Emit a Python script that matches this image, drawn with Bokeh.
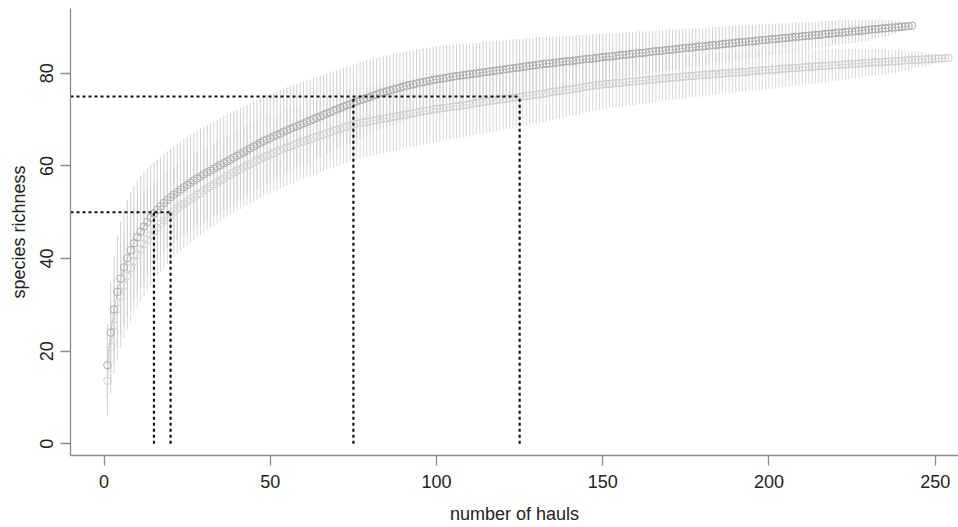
from bokeh.plotting import figure
from bokeh.models import ColumnDataSource, Range1d, FixedTicker
from bokeh.embed import file_html
from bokeh.resources import INLINE

# ---------------- data ----------------
# Series A (upper, darker): mean species richness per number of hauls, x = 1..N
rich_a = [
    17.0, 24.0, 29.0, 32.8, 35.7, 38.1, 40.1, 41.8, 43.3, 44.6,
    45.8, 46.9, 47.9, 48.85, 49.75, 50.55, 51.3, 52.0, 52.65, 53.25,
    53.8, 54.35, 54.9, 55.4, 55.9, 56.4, 56.85, 57.3, 57.75,
    58.2, 58.6, 59.0, 59.4, 59.8, 60.2, 60.6, 61.0, 61.4, 61.8,
    62.2, 62.6, 63.0, 63.4, 63.8, 64.2, 64.6, 65.0, 65.4, 65.7,
    66.0, 66.4, 66.7, 67.0, 67.4, 67.7, 68.0, 68.3, 68.6, 68.9,
    69.2, 69.5, 69.8, 70.1, 70.4, 70.7, 71.0, 71.3, 71.6, 71.9, 72.2, 72.5, 72.8, 73.1, 73.3, 73.6,
    73.9, 74.2, 74.4, 74.7, 74.9, 75.2, 75.4, 75.7, 75.9, 76.1, 76.3, 76.5, 76.7, 76.9, 77.1,
    77.3, 77.5, 77.6, 77.8, 78.0, 78.1, 78.3, 78.4, 78.6, 78.7,
    78.8, 78.9, 79.0, 79.2, 79.3, 79.4, 79.5, 79.6, 79.7, 79.8, 79.9, 80.0, 80.1, 80.2, 80.3,
    80.4, 80.5, 80.6, 80.7, 80.8, 80.9, 81.0, 81.1, 81.2, 81.3,
    81.4, 81.5, 81.6, 81.7, 81.8, 81.9, 82.0, 82.1, 82.1, 82.2, 82.3, 82.4, 82.5, 82.6, 82.6,
    82.7, 82.8, 82.9, 83.0, 83.1, 83.1, 83.2, 83.3, 83.4, 83.5,
    83.6, 83.6, 83.7, 83.8, 83.9, 84.0, 84.0, 84.1, 84.2, 84.3, 84.4, 84.4, 84.5, 84.6, 84.7,
    84.8, 84.8, 84.9, 85.0, 85.1, 85.1, 85.2, 85.3, 85.4, 85.5,
    85.5, 85.6, 85.7, 85.8, 85.8, 85.9, 86.0, 86.1, 86.1, 86.2, 86.3, 86.4, 86.4, 86.5, 86.6,
    86.7, 86.7, 86.8, 86.9, 86.9, 87.0, 87.1, 87.2, 87.2, 87.3,
    87.4, 87.4, 87.5, 87.6, 87.6, 87.7, 87.8, 87.9, 87.9, 88.0, 88.1, 88.1, 88.2, 88.3, 88.3,
    88.4, 88.5, 88.6, 88.6, 88.7, 88.8, 88.8, 88.9, 89.0, 89.0,
    89.1, 89.2, 89.2, 89.3, 89.4, 89.5, 89.5, 89.6, 89.7, 89.7, 89.8, 89.9, 89.9, 90.0, 90.1,
    90.1, 90.2, 90.3,
]
# Series A: half-length of the error bars
ci_a = [
    9.0, 11.0, 11.5, 12.0, 12.3, 12.5, 12.5, 12.5, 12.4, 12.3,
    12.1, 11.9, 11.6, 11.3, 11.0, 10.8, 10.7, 10.6, 10.5, 10.5,
    10.5, 10.5, 10.4, 10.4, 10.4, 10.4, 10.3, 10.3, 10.3, 10.3,
    10.2, 10.2, 10.2, 10.1, 10.1, 10.1, 10.0, 10.0, 10.0, 9.9,
    9.9, 9.9, 9.8, 9.8, 9.8, 9.7, 9.7, 9.6, 9.6, 9.5,
    9.5, 9.4, 9.4, 9.3, 9.3, 9.2, 9.2, 9.1, 9.1, 9.0,
    9.0, 8.9, 8.9, 8.8, 8.8, 8.7, 8.7, 8.6, 8.6, 8.5,
    8.5, 8.4, 8.4, 8.3, 8.3, 8.2, 8.2, 8.1, 8.1, 8.0,
    8.0, 7.9, 7.9, 7.8, 7.8, 7.7, 7.7, 7.6, 7.6, 7.5,
    7.5, 7.5, 7.4, 7.4, 7.3, 7.3, 7.2, 7.2, 7.1, 7.1,
    7.0, 7.0, 7.0, 6.9, 6.9, 6.9, 6.8, 6.8, 6.8, 6.7,
    6.7, 6.6, 6.6, 6.6, 6.5, 6.5, 6.5, 6.4, 6.4, 6.3,
    6.3, 6.3, 6.2, 6.2, 6.1, 6.1, 6.1, 6.0, 6.0, 5.9,
    5.9, 5.8, 5.8, 5.8, 5.7, 5.7, 5.6, 5.6, 5.5, 5.5,
    5.5, 5.4, 5.4, 5.3, 5.3, 5.2, 5.2, 5.1, 5.1, 5.0,
    5.0, 5.0, 4.9, 4.9, 4.9, 4.8, 4.8, 4.8, 4.7, 4.7,
    4.7, 4.6, 4.6, 4.6, 4.5, 4.5, 4.5, 4.4, 4.4, 4.4,
    4.3, 4.3, 4.3, 4.2, 4.2, 4.2, 4.1, 4.1, 4.1, 4.0,
    4.0, 4.0, 3.9, 3.9, 3.9, 3.8, 3.8, 3.8, 3.7, 3.7,
    3.7, 3.6, 3.6, 3.6, 3.5, 3.5, 3.5, 3.4, 3.4, 3.4,
    3.3, 3.3, 3.3, 3.2, 3.2, 3.2, 3.1, 3.1, 3.1, 3.0,
    3.0, 3.0, 2.9, 2.9, 2.9, 2.8, 2.8, 2.8, 2.7, 2.7,
    2.7, 2.6, 2.6, 2.6, 2.5, 2.5, 2.4, 2.4, 2.3, 2.3,
    2.2, 2.1, 2.0, 1.9, 1.8, 1.7, 1.5, 1.4, 1.2, 1.0,
    0.7, 0.4, 0.0,
]

# Series B (lower, lighter)
rich_b = [
    13.6, 20.9, 25.6, 29.1, 31.9, 34.2, 36.2, 37.9, 39.4, 40.8,
    42.0, 43.1, 44.1, 45.0, 45.9, 46.7, 47.5, 48.2, 48.9, 49.6,
    50.2, 50.8, 51.3, 51.8, 52.3, 52.8, 53.3, 53.8, 54.2, 54.7,
    55.1, 55.6, 56.0, 56.5, 56.9, 57.3, 57.8, 58.2, 58.6,
    59.0, 59.3, 59.7, 60.1, 60.4, 60.8, 61.2, 61.5, 61.9, 62.2,
    62.5, 62.8, 63.1, 63.4, 63.7, 64.0, 64.2, 64.5, 64.8, 65.1,
    65.3, 65.6, 65.8, 66.1, 66.3, 66.6, 66.8, 67.1, 67.3, 67.6, 67.8, 68.0, 68.3, 68.5, 68.7, 69.0,
    69.1, 69.3, 69.4, 69.5, 69.7, 69.8, 69.9, 70.1, 70.2, 70.3, 70.5, 70.6, 70.7, 70.9, 71.0,
    71.1, 71.3, 71.4, 71.5, 71.7, 71.8, 71.9, 72.0, 72.2, 72.3,
    72.4, 72.5, 72.6, 72.7, 72.8, 72.9, 73.0, 73.1, 73.2, 73.3, 73.5, 73.6, 73.7, 73.8, 73.9,
    74.0, 74.1, 74.2, 74.3, 74.4, 74.5, 74.6, 74.7, 74.8, 74.9,
    75.0, 75.1, 75.2, 75.3, 75.4, 75.5, 75.6, 75.7, 75.9, 76.0, 76.1, 76.2, 76.3, 76.4, 76.5,
    76.6, 76.7, 76.8, 77.0, 77.1, 77.2, 77.3, 77.4, 77.5, 77.6,
    77.7, 77.7, 77.8, 77.9, 77.9, 78.0, 78.1, 78.2, 78.2, 78.3, 78.4, 78.4, 78.5, 78.6, 78.6,
    78.7, 78.8, 78.9, 78.9, 79.0, 79.1, 79.1, 79.2, 79.3, 79.3,
    79.4, 79.4, 79.5, 79.6, 79.6, 79.7, 79.7, 79.8, 79.8, 79.9, 80.0, 80.0, 80.1, 80.1, 80.2,
    80.2, 80.3, 80.3, 80.4, 80.5, 80.5, 80.6, 80.6, 80.7, 80.7,
    80.8, 80.8, 80.9, 81.0, 81.0, 81.1, 81.1, 81.2, 81.2, 81.3, 81.3, 81.4, 81.4, 81.5, 81.5,
    81.6, 81.6, 81.7, 81.7, 81.8, 81.8, 81.9, 81.9, 82.0, 82.0,
    82.1, 82.1, 82.2, 82.2, 82.3, 82.3, 82.4, 82.4, 82.4, 82.5, 82.5, 82.6, 82.6, 82.7, 82.7,
    82.8, 82.8, 82.9, 82.9, 82.9, 83.0, 83.0, 83.1, 83.1, 83.2, 83.2, 83.2, 83.3, 83.3,
]
ci_b = [
    7.5, 10.0, 10.5, 11.0, 11.2, 11.4, 11.5, 11.5, 11.5, 11.4,
    11.3, 11.2, 11.0, 10.9, 10.7, 10.6, 10.4, 10.3, 10.1, 10.0,
    9.9, 9.8, 9.7, 9.6, 9.5, 9.4, 9.3, 9.2, 9.1, 9.0,
    9.0, 8.9, 8.9, 8.9, 8.8, 8.8, 8.8, 8.7, 8.7, 8.7,
    8.6, 8.6, 8.6, 8.5, 8.5, 8.5, 8.4, 8.4, 8.4, 8.3,
    8.3, 8.3, 8.3, 8.2, 8.2, 8.2, 8.2, 8.1, 8.1, 8.1,
    8.1, 8.0, 8.0, 8.0, 8.0, 7.9, 7.9, 7.9, 7.9, 7.8,
    7.8, 7.8, 7.8, 7.7, 7.7, 7.7, 7.7, 7.6, 7.6, 7.6,
    7.6, 7.5, 7.5, 7.5, 7.5, 7.4, 7.4, 7.4, 7.4, 7.3,
    7.3, 7.3, 7.3, 7.3, 7.2, 7.2, 7.2, 7.2, 7.2, 7.2,
    7.1, 7.1, 7.1, 7.0, 7.0, 7.0, 7.0, 6.9, 6.9, 6.9,
    6.9, 6.8, 6.8, 6.8, 6.8, 6.7, 6.7, 6.7, 6.6, 6.6,
    6.6, 6.6, 6.5, 6.5, 6.5, 6.4, 6.4, 6.4, 6.3, 6.3,
    6.2, 6.2, 6.2, 6.1, 6.1, 6.0, 6.0, 5.9, 5.9, 5.8,
    5.8, 5.8, 5.7, 5.7, 5.6, 5.6, 5.5, 5.5, 5.4, 5.4,
    5.4, 5.3, 5.3, 5.3, 5.2, 5.2, 5.2, 5.1, 5.1, 5.1,
    5.0, 5.0, 5.0, 5.0, 4.9, 4.9, 4.9, 4.9, 4.8, 4.8,
    4.8, 4.8, 4.7, 4.7, 4.7, 4.7, 4.6, 4.6, 4.6, 4.6,
    4.5, 4.5, 4.5, 4.5, 4.4, 4.4, 4.4, 4.4, 4.3, 4.3,
    4.3, 4.3, 4.3, 4.2, 4.2, 4.2, 4.2, 4.2, 4.2, 4.1,
    4.1, 4.1, 4.0, 4.0, 4.0, 3.9, 3.9, 3.9, 3.8, 3.8,
    3.8, 3.7, 3.7, 3.7, 3.6, 3.6, 3.6, 3.5, 3.5, 3.5,
    3.4, 3.4, 3.3, 3.3, 3.2, 3.2, 3.1, 3.1, 3.0, 3.0,
    2.9, 2.9, 2.8, 2.8, 2.7, 2.6, 2.6, 2.5, 2.4, 2.3,
    2.2, 2.1, 2.0, 1.9, 1.8, 1.6, 1.5, 1.3, 1.1, 0.9,
    0.7, 0.5, 0.2, 0.0,
]

# Reference thresholds (dotted lines)
richness_targets = [50, 75]
hauls_needed_a = [15, 75]
hauls_needed_b = [20, 125]

x_ticks = [0, 50, 100, 150, 200, 250]
y_ticks = [0, 20, 40, 60, 80]
x_label = "number of hauls"
y_label = "species richness"

# ---------------- figure ----------------
FONT = "Liberation Sans"
X_START, X_END = -10.1, 257
p = figure(width=958, height=527,
           x_range=Range1d(X_START, X_END), y_range=Range1d(-2.53, 94.0),
           output_backend="svg", toolbar_location=None,
           min_border_left=70, min_border_right=0, min_border_top=8,
           min_border_bottom=72)
p.outline_line_color = None
p.xgrid.visible = False
p.ygrid.visible = False
p.background_fill_color = "white"
p.border_fill_color = "white"


def series_source(rich, ci):
    xs = list(range(1, len(rich) + 1))
    lo = [r - c for r, c in zip(rich, ci)]
    hi = [r + c for r, c in zip(rich, ci)]
    return ColumnDataSource(dict(x=xs, y=rich, lo=lo, hi=hi))


src_a = series_source(rich_a, ci_a)
src_b = series_source(rich_b, ci_b)

# series B (lighter) first
p.segment(x0="x", y0="lo", x1="x", y1="hi", source=src_b,
          line_color="#d8d8d8", line_width=1)
p.line("x", "y", source=src_b, line_color="#d6d6d6", line_width=0.8)
p.scatter("x", "y", source=src_b, marker="circle", size=7.5,
          fill_color=None, line_color="#d0d0d0", line_width=1)

# series A (darker)
p.segment(x0="x", y0="lo", x1="x", y1="hi", source=src_a,
          line_color="#d0d0d0", line_width=1)
p.line("x", "y", source=src_a, line_color="#b8b8b8", line_width=0.8)
p.scatter("x", "y", source=src_a, marker="circle", size=7.5,
          fill_color=None, line_color="#ababab", line_width=1)

# dotted reference lines
h_src = ColumnDataSource(dict(
    x0=[X_START] * len(richness_targets),
    x1=[max(a, b) for a, b in zip(hauls_needed_a, hauls_needed_b)],
    y=richness_targets))
p.segment(x0="x0", y0="y", x1="x1", y1="y", source=h_src,
          line_color="#111111", line_width=2.2, line_dash="3 3")

v_x = hauls_needed_a + hauls_needed_b
v_top = richness_targets + richness_targets
v_src = ColumnDataSource(dict(x=v_x, y0=[0] * len(v_x), y1=v_top))
p.segment(x0="x", y0="y0", x1="x", y1="y1", source=v_src,
          line_color="#111111", line_width=2.2, line_dash="3 3")

# ---------------- axes ----------------
for ax in (p.xaxis[0], p.yaxis[0]):
    ax.axis_line_color = "#8c8c8c"
    ax.axis_line_width = 1.3
    ax.major_tick_line_color = "#8c8c8c"
    ax.major_tick_line_width = 1.3
    ax.major_tick_out = 10
    ax.major_tick_in = 0
    ax.minor_tick_line_color = None
    ax.major_label_text_font = FONT
    ax.major_label_text_font_size = "18px"
    ax.major_label_text_color = "#222222"
    ax.axis_label_text_font = FONT
    ax.axis_label_text_font_size = "18px"
    ax.axis_label_text_font_style = "normal"
    ax.axis_label_text_color = "#222222"

p.xaxis.ticker = FixedTicker(ticks=x_ticks)
p.yaxis.ticker = FixedTicker(ticks=y_ticks)
p.xaxis.axis_label = x_label
p.yaxis.axis_label = y_label
p.xaxis.major_label_standoff = 9
p.xaxis.axis_label_standoff = 13
p.yaxis.major_label_standoff = 7
p.yaxis.axis_label_standoff = 9
p.yaxis.major_label_orientation = "vertical"

open("out.html", "w").write(file_html(p, INLINE))
